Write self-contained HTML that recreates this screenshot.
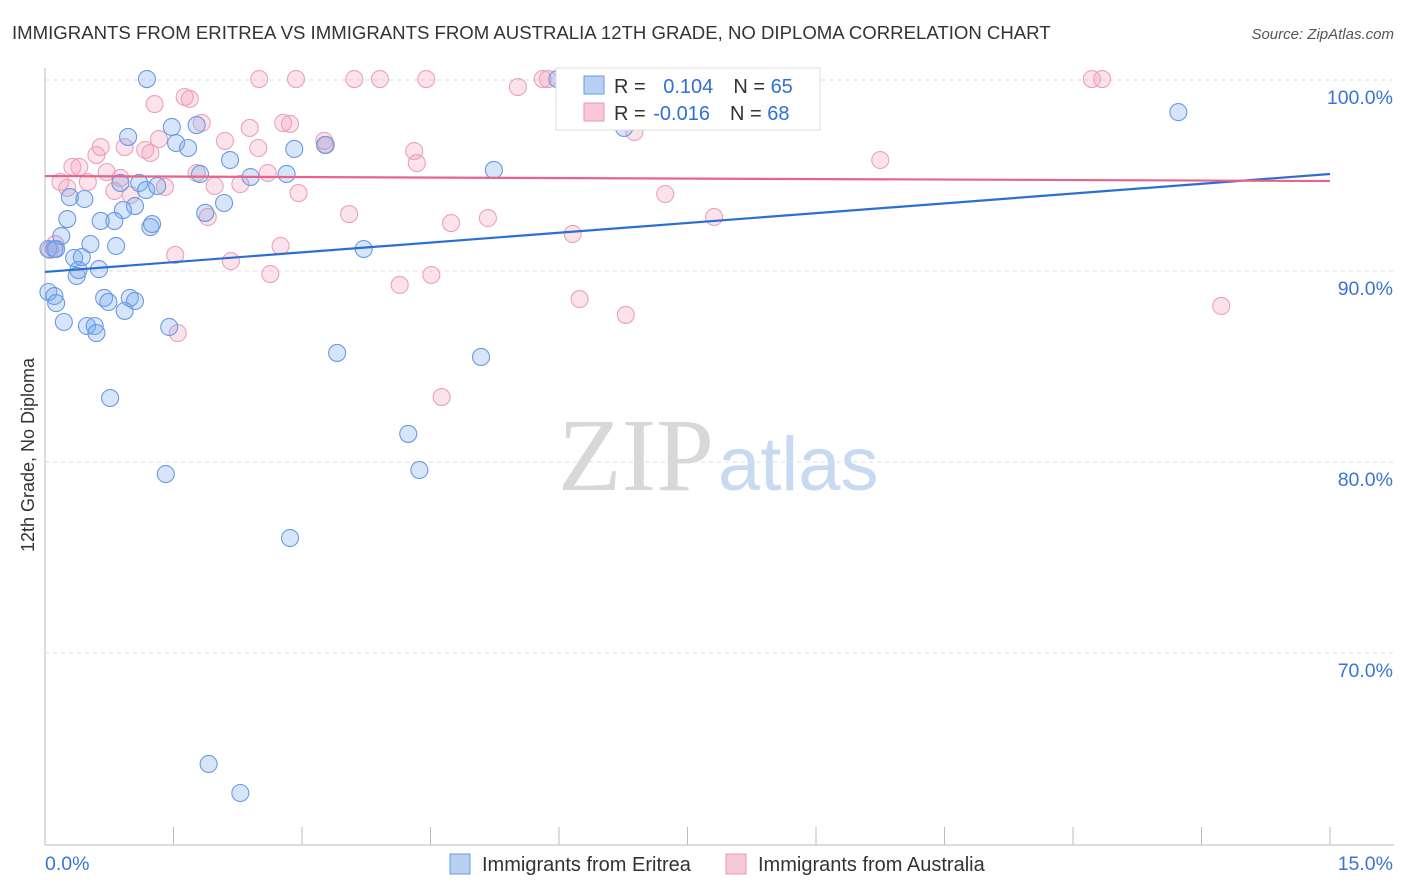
<!DOCTYPE html>
<html><head><meta charset="utf-8"><style>
body{margin:0;background:#fff;font-family:"Liberation Sans",sans-serif}
#wrap{position:relative;width:1406px;height:892px;overflow:hidden}
</style></head><body><div id="wrap">
<svg id="svg" width="1406" height="892" xmlns="http://www.w3.org/2000/svg">
<text x="12" y="39" font-size="18.6" fill="#333">IMMIGRANTS FROM ERITREA VS IMMIGRANTS FROM AUSTRALIA 12TH GRADE, NO DIPLOMA CORRELATION CHART</text>
<text x="1394" y="39" font-size="15" fill="#555" text-anchor="end" font-style="italic">Source: ZipAtlas.com</text>
<text x="714" y="490" font-size="104" fill="#d8d8d8" font-family="Liberation Serif,serif" text-anchor="end">ZIP</text>
<text x="718" y="490" font-size="76" fill="#c8daf2">atlas</text>
<text transform="translate(34,455) rotate(-90)" font-size="18" fill="#333" text-anchor="middle">12th Grade, No Diploma</text>
<g id="grid"></g><g id="pts"></g><g id="lines"></g>
<rect x="556" y="68" width="264" height="62" fill="#fff" stroke="#ddd"/>
<rect x="584" y="76" width="20" height="18" fill="#b8d0f2" stroke="#6a9ae0"/>
<rect x="584" y="103" width="20" height="18" fill="#f8c8d6" stroke="#e896b0"/>
<text x="614" y="93" font-size="20" fill="#333">R = <tspan fill="#2f6fd6" dx="12">0.104</tspan><tspan fill="#333" dx="20">N = </tspan><tspan fill="#2f6fd6">65</tspan></text>
<text x="614" y="120" font-size="20" fill="#333">R = <tspan fill="#2f6fd6" dx="2">-0.016</tspan><tspan fill="#333" dx="20">N = </tspan><tspan fill="#2f6fd6">68</tspan></text>
<rect x="450" y="854" width="20" height="20" fill="#b8d0f2" stroke="#6a9ae0"/>
<text x="482" y="871" font-size="20" fill="#333">Immigrants from Eritrea</text>
<rect x="726" y="854" width="20" height="20" fill="#f8c8d6" stroke="#e896b0"/>
<text x="758" y="871" font-size="20" fill="#333">Immigrants from Australia</text>
</svg></div>
<script>
const yTicks=[100,90,80,70];
const xTickLabels=["0.0%","15.0%"];
const blueX=[1.19,0.97,1.48,1.53,1.67,1.77,2.16,2.40,2.82,2.91,3.27,5.24,5.98,6.76,13.23,1.10,1.18,1.31,0.88,1.81,2.09,1.87,1.05,0.91,0.81,0.65,0.29,0.46,0.26,1.23,1.25,0.19,0.53,0.83,3.72,0.04,0.13,0.34,0.43,0.39,0.63,0.37,0.04,0.11,0.13,0.69,0.74,0.99,1.05,0.93,0.22,0.49,0.58,0.60,1.45,3.41,5.09,0.76,4.24,1.41,4.37,2.86,1.91,2.28,0.11];
const blueY=[100.05,97.02,97.54,96.70,96.44,97.64,95.81,94.92,95.08,96.39,96.60,95.29,100.05,97.49,98.32,94.61,94.24,94.45,94.61,95.08,93.56,93.04,93.40,93.19,92.62,92.62,93.87,93.77,92.72,92.30,92.46,91.83,91.41,91.31,91.15,91.15,91.15,90.68,90.73,90.05,90.10,89.74,88.90,88.69,88.32,88.59,88.38,88.59,88.43,87.91,87.33,87.12,87.12,86.75,87.07,85.71,85.50,83.35,81.47,79.37,79.58,76.02,64.19,62.67,91.15];
const pinkX=[2.50,2.93,3.61,3.91,4.45,5.52,5.81,5.87,12.22,12.34,1.28,1.63,1.69,1.83,2.39,2.78,2.86,2.10,2.49,1.33,1.17,1.23,0.93,0.65,0.60,3.26,3.28,4.31,4.34,6.49,6.51,6.88,9.75,7.24,7.81,0.32,0.40,0.18,0.26,0.50,0.72,0.88,1.40,1.00,0.81,1.77,1.98,2.28,2.60,2.96,1.90,3.55,4.74,5.17,6.16,2.75,1.52,2.17,2.63,4.14,4.51,6.24,6.78,13.73,1.55,4.63,0.12,0.06];
const pinkY=[100.05,100.05,100.05,100.05,100.05,99.63,100.05,100.05,100.05,100.05,98.74,99.11,99.01,97.75,97.49,97.75,97.70,96.81,96.44,96.91,96.34,96.18,96.49,96.49,96.07,96.81,96.60,96.28,95.65,98.80,98.53,97.28,95.81,94.03,92.83,95.45,95.45,94.66,94.35,94.66,95.18,94.87,94.40,93.98,94.19,95.13,94.45,94.55,95.13,94.08,92.83,92.98,92.51,92.77,91.94,91.31,90.84,90.52,89.84,89.27,89.79,88.53,87.70,88.17,86.75,83.40,91.41,91.10];
const blueTrend=[89.95,95.08];
const pinkTrend=[94.97,94.71];
const NS="http://www.w3.org/2000/svg";
const X=v=>45+v/15*1285, Y=v=>80+(100-v)*19.1;
function mk(t,a,p){const e=document.createElementNS(NS,t);for(const k in a)e.setAttribute(k,a[k]);p.appendChild(e);return e;}
const svg=document.getElementById('svg'),grid=document.getElementById('grid'),pts=document.getElementById('pts'),lines=document.getElementById('lines');
let ax=mk('line',{x1:45,y1:68,x2:45,y2:845,stroke:'#bbb'},grid);


let bx=mk('line',{x1:45,y1:845,x2:1394,y2:845,stroke:'#bbb'},grid);


yTicks.forEach(t=>{
 let g=mk('line',{x1:45,y1:Y(t),x2:1394,y2:Y(t),stroke:'#ddd','stroke-dasharray':'4,4'},grid);
 
 
 let l=mk('text',{x:1393,y:Y(t)+24,'font-size':19.5,fill:'#3a74d8','text-anchor':'end'},grid);l.textContent=t.toFixed(1)+'%';
 
 
});
for(let i=0;i<=10;i++){let v=i*1.5;let t=mk('line',{x1:X(v),y1:827,x2:X(v),y2:845,stroke:'#bbb'},grid);
 
 }
let l0=mk('text',{x:45,y:870,'font-size':19.5,fill:'#3a74d8'},grid);l0.textContent=xTickLabels[0];


let l1=mk('text',{x:1393,y:870,'font-size':19.5,fill:'#3a74d8','text-anchor':'end'},grid);l1.textContent=xTickLabels[1];


function dots(xs,ys,fill,stroke,name){xs.forEach((x,i)=>{let c=mk('circle',{cx:X(x),cy:Y(ys[i]),r:8.5,fill:fill,stroke:stroke,'stroke-width':1.1},pts);
 
 });}
dots(pinkX,pinkY,'rgba(244,160,188,0.3)','#eaa2ba','point-australia');
dots(blueX,blueY,'rgba(120,170,235,0.3)','#6a9ae2','point-eritrea');
let bl=mk('line',{x1:X(0),y1:Y(blueTrend[0]),x2:X(15),y2:Y(blueTrend[1]),stroke:'#2a6fd4','stroke-width':2.2},lines);


let pl=mk('line',{x1:X(0),y1:Y(pinkTrend[0]),x2:X(15),y2:Y(pinkTrend[1]),stroke:'#e8628a','stroke-width':2.2},lines);


</script></body></html>
